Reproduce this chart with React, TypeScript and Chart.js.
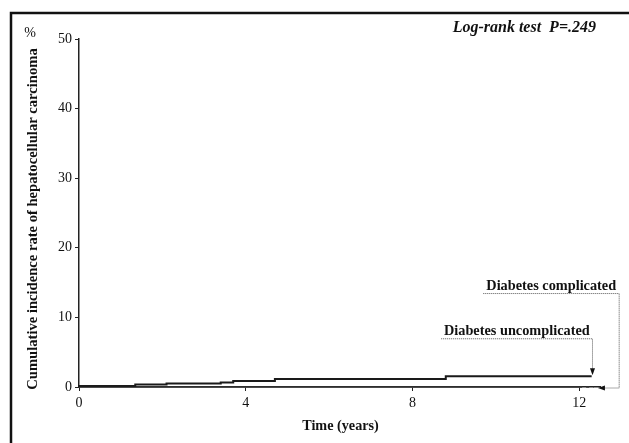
import React, { useEffect, useRef } from "react";
import { Chart, registerables } from "chart.js";

Chart.register(...registerables);

// ---- data ----
const xTicks = [0, 4, 8, 12];
const yTicks = [0, 10, 20, 30, 40, 50];
const uncompTimes = [0, 1.35, 2.1, 3.4, 3.7, 4.7, 8.8, 10.5, 12.3];
const uncompRates = [0, 0.15, 0.35, 0.5, 0.65, 0.85, 1.15, 1.55, 1.55];
const compTimes = [0, 12, 12.35];
const compRates = [0, 0, 0];
const yTitle = "Cumulative incidence rate of hepatocellular carcinoma";
const xTitle = "Time (years)";
const unitLabel = "%";
const testLabel = "Log-rank test  P=.249";
const compLabel = "Diabetes complicated";
const uncompLabel = "Diabetes uncomplicated";

const SERIF = '"Liberation Serif", "DejaVu Serif", serif';

const annotations = [
  { text: compLabel, lineY: 13.5, x0: 9.7, x1: 12.96, tipX: 12.45, tipY: 0, horizontalTip: true },
  { text: uncompLabel, lineY: 7.0, x0: 8.69, x1: 12.32, tipX: 12.32, tipY: 1.7, horizontalTip: false },
];

const decorPlugin = {
  id: "decor",
  afterDraw(chart: any) {
    const { ctx, scales } = chart;
    const xs = scales.x;
    const ys = scales.y;
    ctx.save();
    // frame
    ctx.strokeStyle = "#111";
    ctx.lineWidth = 2.5;
    ctx.beginPath();
    ctx.moveTo(11, 443);
    ctx.lineTo(11, 13);
    ctx.lineTo(629, 13);
    ctx.stroke();

    ctx.fillStyle = "#111";
    // % label
    ctx.font = `14px ${SERIF}`;
    ctx.textAlign = "center";
    ctx.textBaseline = "middle";
    ctx.fillText(unitLabel, 30, 33);

    // y title
    ctx.save();
    ctx.translate(33, 219);
    ctx.rotate(-Math.PI / 2);
    ctx.font = `bold 14.6px ${SERIF}`;
    ctx.fillText(yTitle, 0, 0);
    ctx.restore();

    // x title
    ctx.font = `bold 14.2px ${SERIF}`;
    ctx.fillText(xTitle, (xs.left + xs.right) / 2 + 1, 426);

    // log-rank
    ctx.font = `italic bold 16px ${SERIF}`;
    ctx.textAlign = "right";
    ctx.fillText(testLabel, 596, 28);

    // annotations
    for (const a of annotations) {
      const px0 = xs.getPixelForValue(a.x0);
      const px1 = xs.getPixelForValue(a.x1);
      const py = ys.getPixelForValue(a.lineY);
      const tx = xs.getPixelForValue(a.tipX);
      const ty = ys.getPixelForValue(a.tipY);
      ctx.font = `bold 14.3px ${SERIF}`;
      ctx.textAlign = "center";
      ctx.textBaseline = "alphabetic";
      ctx.fillStyle = "#111";
      ctx.fillText(a.text, (px0 + px1) / 2, py - 3);
      ctx.strokeStyle = "#555";
      ctx.lineWidth = 1;
      ctx.setLineDash([1, 1]);
      ctx.beginPath();
      ctx.moveTo(px0, py + 0.5);
      ctx.lineTo(px1, py + 0.5);
      if (a.horizontalTip) {
        ctx.lineTo(px1, ty + 1);
        ctx.lineTo(tx + 6, ty + 1);
      } else {
        ctx.lineTo(px1, ty - 6);
      }
      ctx.stroke();
      ctx.setLineDash([]);
      ctx.fillStyle = "#111";
      ctx.beginPath();
      if (a.horizontalTip) {
        ctx.moveTo(tx, ty + 1);
        ctx.lineTo(tx + 7, ty - 1.5);
        ctx.lineTo(tx + 7, ty + 3.5);
      } else {
        ctx.moveTo(px1, ty);
        ctx.lineTo(px1 - 2.5, ty - 7);
        ctx.lineTo(px1 + 2.5, ty - 7);
      }
      ctx.closePath();
      ctx.fill();
    }
    ctx.restore();
  },
};

const bgPlugin = {
  id: "bg",
  beforeDraw(chart: any) {
    const { ctx, width, height } = chart;
    ctx.save();
    ctx.fillStyle = "#fff";
    ctx.fillRect(0, 0, width, height);
    ctx.restore();
  },
};

export default function App() {
  const ref = useRef<HTMLCanvasElement>(null);
  useEffect(() => {
    if (!ref.current) return;
    const chart = new Chart(ref.current, {
      type: "line",
      data: {
        datasets: [
          {
            label: uncompLabel,
            data: uncompTimes.map((t, i) => ({ x: t, y: uncompRates[i] })),
            stepped: "after",
            borderColor: "#1a1a1a",
            borderWidth: 2,
            pointRadius: 0,
            clip: false,
          },
          {
            label: compLabel,
            data: compTimes.map((t, i) => ({ x: t, y: compRates[i] })),
            stepped: "after",
            borderColor: "#333",
            borderWidth: 1.5,
            pointRadius: 0,
            clip: false,
            segment: {
              borderDash: (c: any) => (c.p0DataIndex >= compTimes.length - 2 ? [3, 4] : undefined),
            },
          },
        ],
      },
      options: {
        animation: false,
        responsive: false,
        devicePixelRatio: 1,
        layout: { padding: { left: 0, top: 39, right: 29, bottom: 0 } },
        plugins: { legend: { display: false }, tooltip: { enabled: false }, title: { display: false } },
        scales: {
          x: {
            type: "linear",
            min: 0,
            max: 12.5,
            afterBuildTicks: (s: any) => {
              s.ticks = xTicks.map((v) => ({ value: v }));
            },
            afterFit: (s: any) => {
              s.height = 56;
            },
            grid: { display: true, drawOnChartArea: false, drawTicks: true, tickLength: 4, color: "#222" },
            border: { display: true, color: "#222", width: 1.5 },
            ticks: { color: "#111", font: { family: SERIF, size: 14 }, padding: 4, maxRotation: 0 },
          },
          y: {
            type: "linear",
            min: 0,
            max: 50,
            afterBuildTicks: (s: any) => {
              s.ticks = yTicks.map((v) => ({ value: v }));
            },
            afterFit: (s: any) => {
              s.width = 79;
            },
            grid: { display: true, drawOnChartArea: false, drawTicks: true, tickLength: 4, color: "#222" },
            border: { display: true, color: "#222", width: 1.5 },
            ticks: { color: "#111", font: { family: SERIF, size: 14 }, padding: 3 },
          },
        },
      },
      plugins: [bgPlugin, decorPlugin],
    } as any);
    return () => chart.destroy();
  }, []);
  return (
    <div style={{ position: "fixed", left: 0, top: 0, width: 629, height: 443, background: "#fff" }}>
      <canvas ref={ref} width={629} height={443} style={{ display: "block" }} />
    </div>
  );
}
